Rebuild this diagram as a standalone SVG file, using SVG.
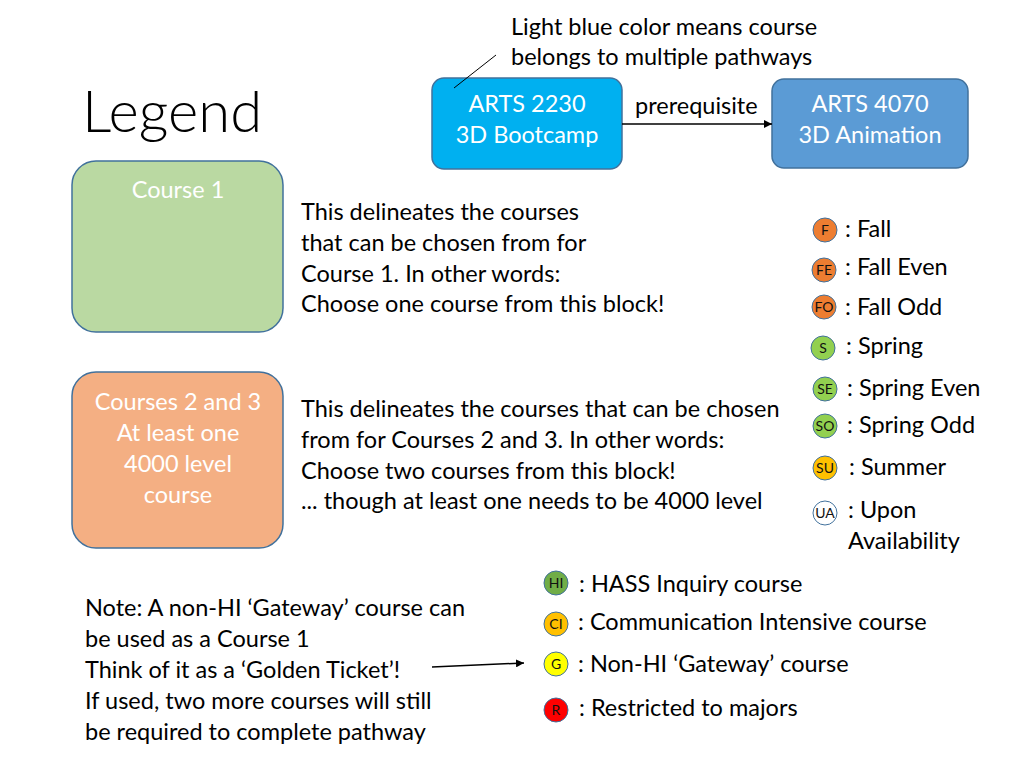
<svg xmlns="http://www.w3.org/2000/svg" width="1024" height="768" viewBox="0 0 1024 768">
<defs>
<marker id="ah" viewBox="0 0 10 10" refX="10" refY="5" markerWidth="8" markerHeight="8" markerUnits="userSpaceOnUse" orient="auto"><path d="M0,0 L10,5 L0,10 z" fill="#000"/></marker>
<style>
text{font-family:Lato,"Liberation Sans",sans-serif;font-size:23.5px;fill:#000}
.w{fill:#fff;text-anchor:middle}
.c{font-size:14px;text-anchor:middle;fill:#111}
.dot{stroke:#41719C;stroke-width:1}
.box{stroke:#41719C;stroke-width:1.5}
</style>
</defs>
<rect width="1024" height="768" fill="#fff"/>
<text x="82" y="132" style="font-size:58px;font-weight:300">Legend</text>

<g id="arts2230">
<rect x="432" y="78" width="190" height="91" rx="12" fill="#00B0F0" class="box"/>
<text x="527" y="112" class="w">ARTS 2230</text>
<text x="527" y="143" class="w">3D Bootcamp</text>
</g>
<g id="arts4070">
<rect x="772" y="79" width="196" height="89" rx="12" fill="#5B9BD5" class="box"/>
<text x="870" y="112" class="w">ARTS 4070</text>
<text x="870" y="143" class="w">3D Animation</text>
</g>

<g id="note-top">
<text x="511" y="35">Light blue color means course</text>
<text x="511" y="65">belongs to multiple pathways</text>
<line x1="496" y1="55" x2="454" y2="88" stroke="#000" stroke-width="1"/>
</g>

<g id="course1">
<rect x="72" y="161" width="211" height="171" rx="24" fill="#BAD9A2" class="box"/>
<text x="178" y="198" class="w">Course 1</text>
</g>
<g id="courses23">
<rect x="72" y="372" width="211" height="176" rx="24" fill="#F4AF83" class="box"/>
<text x="178" y="410" class="w">Courses 2 and 3</text>
<text x="178" y="441" class="w">At least one</text>
<text x="178" y="472" class="w">4000 level</text>
<text x="178" y="503" class="w">course</text>
</g>

<g id="desc1">
<text x="301" y="220">This delineates the courses</text>
<text x="301" y="251">that can be chosen from for</text>
<text x="301" y="282">Course 1. In other words:</text>
<text x="301" y="312">Choose one course from this block!</text>
</g>
<g id="desc2">
<text x="301" y="417">This delineates the courses that can be chosen</text>
<text x="301" y="448">from for Courses 2 and 3. In other words:</text>
<text x="301" y="479">Choose two courses from this block!</text>
<text x="301" y="509">... though at least one needs to be 4000 level</text>
</g>

<g id="seasons">
<g id="sF"><circle cx="825" cy="230" r="12" fill="#ED7D31" class="dot"/><text x="825" y="235" class="c">F</text><text x="845" y="237">: Fall</text></g>
<g id="sFE"><circle cx="824" cy="270" r="12" fill="#ED7D31" class="dot"/><text x="824" y="275" class="c">FE</text><text x="845" y="275">: Fall Even</text></g>
<g id="sFO"><circle cx="824" cy="307" r="12" fill="#ED7D31" class="dot"/><text x="824" y="312" class="c">FO</text><text x="845" y="315">: Fall Odd</text></g>
<g id="sS"><circle cx="823" cy="348" r="12" fill="#92D050" class="dot"/><text x="823" y="353" class="c">S</text><text x="846" y="354">: Spring</text></g>
<g id="sSE"><circle cx="825" cy="389" r="12" fill="#92D050" class="dot"/><text x="825" y="394" class="c">SE</text><text x="847" y="396">: Spring Even</text></g>
<g id="sSO"><circle cx="825" cy="426" r="12" fill="#92D050" class="dot"/><text x="825" y="431" class="c">SO</text><text x="847" y="433">: Spring Odd</text></g>
<g id="sSU"><circle cx="825" cy="468" r="12" fill="#FFC000" class="dot"/><text x="825" y="473" class="c">SU</text><text x="849" y="475">: Summer</text></g>
<g id="sUA"><circle cx="825" cy="513" r="12" fill="#fff" class="dot"/><text x="825" y="518" class="c">UA</text><text x="848" y="518">: Upon</text><text x="848" y="549">Availability</text></g>
</g>

<g id="attributes">
<g id="aHI"><circle cx="556" cy="583" r="12" fill="#70AD47" class="dot"/><text x="556" y="588" class="c">HI</text><text x="579" y="592">: HASS Inquiry course</text></g>
<g id="aCI"><circle cx="556" cy="624" r="12" fill="#FFC000" class="dot"/><text x="556" y="629" class="c">CI</text><text x="578" y="630">: Communication Intensive course</text></g>
<g id="aG"><circle cx="556" cy="664" r="12" fill="#FFFF00" class="dot"/><text x="556" y="669" class="c">G</text><text x="578" y="672">: Non-HI ‘Gateway’ course</text></g>
<g id="aR"><circle cx="556" cy="710" r="12" fill="#FF0000" class="dot"/><text x="556" y="715" class="c">R</text><text x="579" y="716">: Restricted to majors</text></g>
</g>

<g id="note-bottom">
<text x="85" y="616">Note: A non-HI ‘Gateway’ course can</text>
<text x="85" y="647">be used as a Course 1</text>
<text x="85" y="678">Think of it as a ‘Golden Ticket’!</text>
<text x="85" y="709">If used, two more courses will still</text>
<text x="85" y="740">be required to complete pathway</text>
</g>

<g id="connectors">
<line x1="622" y1="124" x2="772" y2="124" stroke="#000" stroke-width="1.5" marker-end="url(#ah)"/>
<text x="635" y="114">prerequisite</text>
<line x1="432" y1="667" x2="524" y2="663" stroke="#000" stroke-width="1.5" marker-end="url(#ah)"/>
</g>
</svg>
